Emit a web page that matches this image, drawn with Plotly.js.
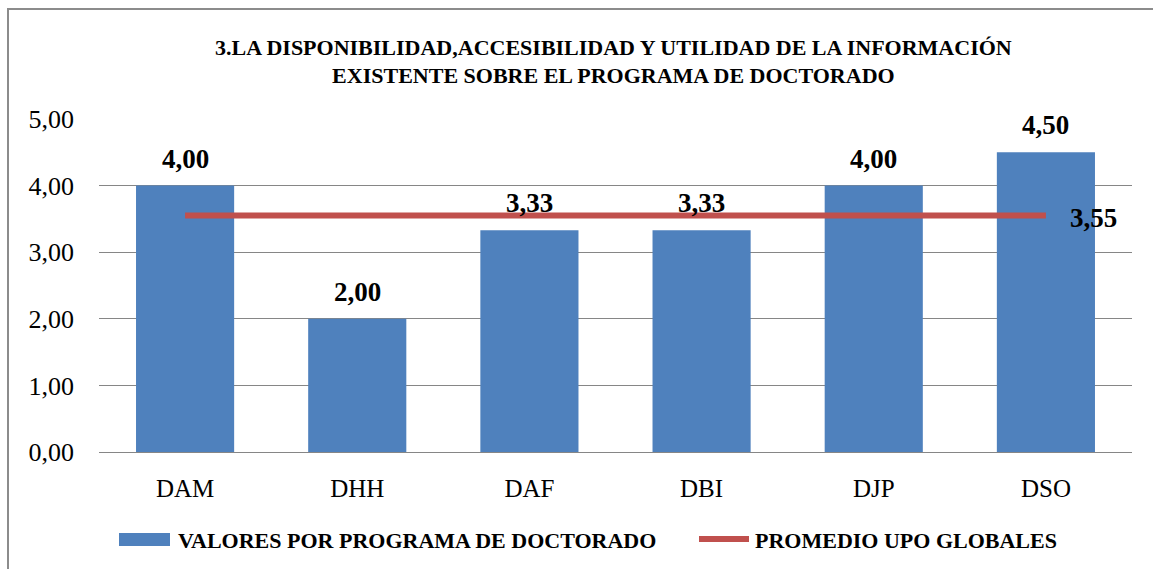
<!DOCTYPE html>
<html>
<head>
<meta charset="utf-8">
<script src="https://cdn.plot.ly/plotly-3.0.1.min.js"></script>
<style>html,body{margin:0;padding:0;background:#fff;}#chart{width:1153px;height:569px;}</style>
</head>
<body>
<div id="chart"></div>
<script>
var categories = ["DAM", "DHH", "DAF", "DBI", "DJP", "DSO"];
var programValues = [4.00, 2.00, 3.33, 3.33, 4.00, 4.50];
var globalAverage = [3.55, 3.55, 3.55, 3.55, 3.55, 3.55];
var barLabels = ["4,00", "2,00", "3,33", "3,33", "4,00", "4,50"];
var averageLabel = "3,55";
var seriesNames = ["VALORES POR PROGRAMA DE DOCTORADO", "PROMEDIO UPO GLOBALES"];
var titleText = "3.LA DISPONIBILIDAD,ACCESIBILIDAD Y UTILIDAD DE LA INFORMACIÓN<br>EXISTENTE SOBRE EL PROGRAMA DE DOCTORADO";

var FONT = "Liberation Serif, DejaVu Serif, serif";
var BLUE = "#4F81BD", RED = "#C0504D";

var traces = [
  {
    type: "bar", x: categories, y: programValues, name: seriesNames[0],
    marker: {color: BLUE}, width: 0.57,
    hoverinfo: "skip", showlegend: false
  },
  {
    type: "scatter", mode: "lines", x: categories, y: globalAverage, name: seriesNames[1],
    line: {color: RED, width: 6},
    hoverinfo: "skip", showlegend: false
  }
];

var L = 99, R = 1132, T = 119, B = 452, W = 1153, H = 569;
function px(x){ return (x - L) / (R - L); }
function py(y){ return (B - y) / (B - T); }

var labelFont = {family: FONT, size: 27, color: "#000", weight: "bold"};
var annotations = categories.map(function(c, i){
  return {x: c, y: programValues[i], xref: "x", yref: "y", text: barLabels[i],
          showarrow: false, xanchor: "center", yanchor: "bottom", yshift: 10, font: labelFont};
});
annotations.push({x: categories[categories.length - 1], y: globalAverage[globalAverage.length - 1],
  xref: "x", yref: "y", text: averageLabel, showarrow: false, xanchor: "left", yanchor: "middle",
  xshift: 22, yshift: -2, font: labelFont});
annotations.push({xref: "paper", yref: "paper", x: px(176), y: py(540), xanchor: "left", yanchor: "middle",
  text: seriesNames[0], showarrow: false, font: {family: FONT, size: 22, color: "#000", weight: "bold"}});
annotations.push({xref: "paper", yref: "paper", x: px(753), y: py(540), xanchor: "left", yanchor: "middle",
  text: seriesNames[1], showarrow: false, font: {family: FONT, size: 22, color: "#000", weight: "bold"}});

var layout = {
  width: W, height: H,
  margin: {l: L, r: W - R, t: T, b: H - B, pad: 0},
  paper_bgcolor: "#fff", plot_bgcolor: "#fff",
  separators: ",.",
  showlegend: false,
  title: {
    text: titleText, x: 0.532, xanchor: "center", y: 0.904, yanchor: "middle",
    font: {family: FONT, size: 22, color: "#000", weight: "bold"}
  },
  font: {family: FONT, color: "#000"},
  xaxis: {
    type: "category", showgrid: false, showline: true, linecolor: "#868686", linewidth: 1,
    ticks: "", tickfont: {family: FONT, size: 25, color: "#000"}, ticklabelstandoff: 14,
    fixedrange: true
  },
  yaxis: {
    range: [0, 5], autorange: false, dtick: 1, tick0: 0, tickformat: ".2f",
    showgrid: true, gridcolor: "#868686", gridwidth: 1, zeroline: false, showline: false,
    ticks: "", ticklabelstandoff: 24, tickfont: {family: FONT, size: 26, color: "#000"},
    fixedrange: true
  },
  shapes: [
    {type: "rect", xref: "paper", yref: "paper", x0: px(8), x1: px(1160), y0: py(9), y1: py(580),
     line: {color: "#8c8c8c", width: 2}, fillcolor: "rgba(0,0,0,0)", layer: "below"},
    {type: "rect", xref: "paper", yref: "paper", x0: px(119), x1: px(170), y0: py(533), y1: py(546),
     line: {width: 0}, fillcolor: BLUE},
    {type: "line", xref: "paper", yref: "paper", x0: px(699), x1: px(749), y0: py(539), y1: py(539),
     line: {color: RED, width: 6}}
  ],
  annotations: annotations
};

Plotly.newPlot("chart", traces, layout, {displayModeBar: false, staticPlot: true});
</script>
</body>
</html>
